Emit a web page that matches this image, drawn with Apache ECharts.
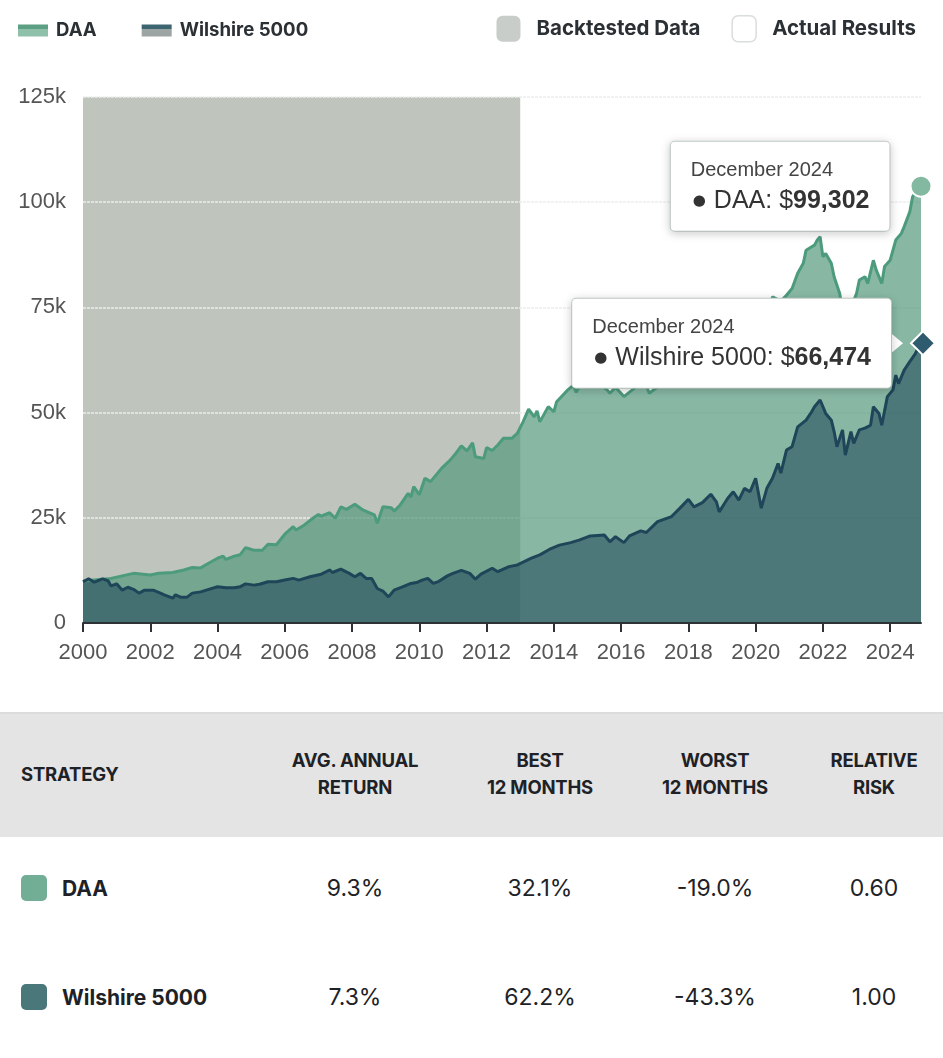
<!DOCTYPE html>
<html>
<head>
<meta charset="utf-8">
<script src="https://cdn.jsdelivr.net/npm/echarts/dist/echarts.min.js"></script>
<style>
  body { margin: 0; background: #fff; font-family: Inter, Roboto, sans-serif; color: #222; }
  #chart { width: 943px; height: 712px; }
  #stats { position: relative; width: 943px; height: 346px; }
  .band { position: absolute; left: 0; top: 0; width: 943px; height: 125px; background: #e4e4e4; border-top: 2px solid #dcdcdc; box-sizing: border-box; }
  .cell { position: absolute; width: 220px; text-align: center; transform: translateY(-50%); white-space: nowrap; }
  .head { font-weight: 700; font-size: 18.5px; line-height: 27px; color: #1e2226; letter-spacing: -0.2px; }
  .name { font-weight: 700; font-size: 21px; color: #1e2226; text-align: left; }
  .val { font-size: 23px; color: #1e2226; }
  .sw { position: absolute; width: 26px; height: 26px; border-radius: 5px; transform: translateY(-50%); }
</style>
</head>
<body>
<div id="chart"></div>
<div id="stats"></div>
<script>
// 月份 (x 轴类目)
var months = [];
for (var y = 2000; y <= 2024; y++) {
    for (var mo = 1; mo <= 12; mo++) {
        months.push(y + '-' + (mo < 10 ? '0' + mo : mo));
    }
}

// DAA 读数
var daaDates = ['2000-01','2000-11','2001-07','2002-01','2002-04','2002-09','2003-01','2003-04','2003-07','2003-09',
    '2004-01','2004-03','2004-04','2004-07','2004-09','2004-11','2005-02','2005-05','2005-07','2005-10',
    '2006-01','2006-04','2006-05','2006-08','2006-11','2007-01','2007-02','2007-05','2007-07','2007-09',
    '2007-11','2008-02','2008-05','2008-09','2008-10','2008-12','2009-03','2009-04','2009-06','2009-09',
    '2009-10','2009-11','2010-01','2010-03','2010-05','2010-09','2010-12','2011-02','2011-04','2011-06',
    '2011-08','2011-09','2011-12','2012-01','2012-03','2012-05','2012-07','2012-10','2012-12','2013-02',
    '2013-04','2013-06','2013-07','2013-08','2013-11','2014-01','2014-02','2014-06','2014-08','2014-09',
    '2014-11','2015-02','2015-05','2015-08','2015-09','2015-11','2016-02','2016-05','2016-08','2016-10',
    '2016-11','2017-02','2017-05','2017-09','2018-01','2018-03','2018-06','2018-09','2018-12','2019-03',
    '2019-07','2019-11','2020-01','2020-03','2020-05','2020-07','2020-10','2020-12','2021-02','2021-04',
    '2021-06','2021-07','2021-09','2021-10','2021-11','2021-12','2022-01','2022-02','2022-04','2022-05',
    '2022-07','2022-08','2022-09','2022-10','2022-11','2023-01','2023-02','2023-04','2023-05','2023-07',
    '2023-08','2023-10','2023-11','2024-01','2024-03','2024-05','2024-06','2024-08','2024-09','2024-11',
    '2024-12'];
var daaValues = [10000,10600,11800,11400,11800,12000,12600,13200,13100,13900,
    15400,15900,15100,15900,16200,17900,17300,17300,18700,18600,
    21100,22900,22100,23300,24900,25800,25400,26200,24900,27600,
    27000,28200,26800,25700,23700,27600,27400,26600,27900,30800,
    29900,32400,30500,34400,33600,36800,38700,40300,42100,40900,
    42800,39500,39100,41700,41000,42300,43900,43900,45100,47800,
    50800,49000,50400,47800,51400,50200,52600,55400,56500,54800,
    57500,58500,57000,55400,54600,56000,53800,55400,57000,56500,
    54600,56100,60500,63500,67000,64000,66000,68000,62500,67000,
    70000,72500,74000,66500,71000,77500,76500,77900,79500,83100,
    85500,88600,89400,89800,91000,91800,87000,87800,85500,82300,
    78300,74000,71500,72500,75000,78300,81500,82300,80700,86200,
    83900,80700,84700,86200,91000,92600,94200,97700,101300,103300,
    103800];

// Wilshire 5000 读数
var wilDates = ['2000-01','2000-03','2000-05','2000-08','2000-10','2000-11','2001-01','2001-03','2001-05','2001-07',
    '2001-09','2001-11','2002-02','2002-04','2002-06','2002-09','2002-10','2002-12','2003-02','2003-04',
    '2003-07','2003-09','2004-01','2004-04','2004-07','2004-09','2004-11','2005-02','2005-04','2005-07',
    '2005-10','2006-01','2006-04','2006-06','2006-10','2007-02','2007-05','2007-06','2007-09','2007-12',
    '2008-02','2008-04','2008-06','2008-08','2008-10','2008-12','2009-02','2009-04','2009-07','2009-10',
    '2009-12','2010-02','2010-04','2010-06','2010-08','2010-11','2011-01','2011-04','2011-07','2011-09',
    '2011-11','2012-03','2012-05','2012-09','2012-12','2013-05','2013-08','2013-12','2014-03','2014-07',
    '2014-10','2015-02','2015-07','2015-09','2015-11','2016-02','2016-04','2016-08','2016-10','2017-02',
    '2017-07','2017-10','2018-01','2018-03','2018-06','2018-09','2018-11','2018-12','2019-03','2019-05',
    '2019-07','2019-09','2019-11','2020-01','2020-03','2020-05','2020-07','2020-09','2020-10','2020-12',
    '2021-02','2021-04','2021-07','2021-09','2021-10','2021-12','2022-02','2022-04','2022-05','2022-06',
    '2022-08','2022-09','2022-11','2022-12','2023-02','2023-04','2023-06','2023-07','2023-09','2023-10',
    '2023-12','2024-02','2024-03','2024-04','2024-06','2024-08','2024-10','2024-11','2024-12'];
var wilValues = [9800,10500,9700,10500,10000,8800,9300,7800,8500,8000,
    7100,7800,7800,7300,6700,5900,6700,6100,6100,7100,
    7400,7800,8600,8400,8400,8600,9300,9000,9200,9800,
    9800,10200,10600,10200,11000,11600,12600,12000,12800,11800,
    11000,11800,10600,10600,8200,7600,6200,7800,8600,9400,
    9600,10200,10600,9400,9900,11200,11800,12500,11800,10400,
    11600,13000,12200,13400,13800,15400,16200,17700,18500,19100,
    19700,20700,20900,19300,20500,19100,20700,21900,21500,24100,
    25300,27300,29400,27600,28600,30600,28800,26400,29600,31200,
    29200,32000,31200,34400,27300,32000,34400,37900,35600,41100,
    41900,46600,48200,50200,51400,53000,49800,48200,45500,41900,
    45900,39900,45500,42700,45900,46300,47000,51400,49800,47000,
    53800,55400,58900,56900,60100,62100,64000,65500,66500];

var backtestRange = ['2000-01', '2013-01'];
var tipMonth = 'December 2024';
var daaTip = '99,302';
var wilTip = '66,474';
var yTicks = [0, 25000, 50000, 75000, 100000, 125000];

// 表格
var headLines = [['STRATEGY'], ['AVG. ANNUAL', 'RETURN'], ['BEST', '12 MONTHS'], ['WORST', '12 MONTHS'], ['RELATIVE', 'RISK']];
var strategies = ['DAA', 'Wilshire 5000'];
var avgReturn = ['9.3%', '7.3%'];
var best12 = ['32.1%', '62.2%'];
var worst12 = ['-19.0%', '-43.3%'];
var relRisk = ['0.60', '1.00'];
var swatches = ['#72ae95', '#4a777a'];

function pairs(dates, values) {
    return dates.map(function (d, i) { return [d, values[i]]; });
}

function twoTone(top, bottom) {
    return {
        type: 'linear', x: 0, y: 0, x2: 0, y2: 1,
        colorStops: [
            {offset: 0, color: top}, {offset: 0.36, color: top},
            {offset: 0.36, color: bottom}, {offset: 1, color: bottom}
        ]
    };
}

function tipLabel(name, value, dist) {
    return {
        show: true,
        position: 'left',
        distance: dist,
        backgroundColor: '#fff',
        borderColor: '#c8d3cd',
        borderWidth: 1,
        borderRadius: 4,
        padding: [15, 20, 13, 20],
        shadowBlur: 8,
        shadowColor: 'rgba(0,0,0,0.18)',
        shadowOffsetY: 2,
        formatter: '{d|' + tipMonth + '}\n{dot|●}{n|' + name + ': $}{v|' + value + '}',
        rich: {
            d: {fontFamily: 'Liberation Sans', fontSize: 20, color: '#444', lineHeight: 28, align: 'left'},
            dot: {fontFamily: 'DejaVu Sans', fontSize: 15, color: '#333', lineHeight: 33, align: 'left', padding: [0, 8, 0, 2]},
            n: {fontFamily: 'Liberation Sans', fontSize: 25, color: '#333', lineHeight: 33, align: 'left'},
            v: {fontFamily: 'Liberation Sans', fontSize: 25, fontWeight: 'bold', color: '#333', lineHeight: 33, align: 'left'}
        }
    };
}

var lastMonth = months[months.length - 1];

var option = {
    animation: false,
    legend: [{
        left: 18,
        top: 21,
        padding: 0,
        icon: 'rect',
        itemWidth: 30,
        itemHeight: 12,
        itemGap: 45,
        selectedMode: false,
        textStyle: {fontFamily: 'Inter', fontWeight: 'bold', fontSize: 18.6, color: '#2b3035', padding: [0, 0, 0, 3]},
        data: [
            {name: 'DAA', itemStyle: {color: twoTone('#5d9f83', '#8fc0aa')}},
            {name: 'Wilshire 5000', itemStyle: {color: twoTone('#3d6571', '#9ca4a4')}}
        ]
    }, {
        right: 27,
        top: 15,
        padding: 0,
        icon: 'roundRect',
        itemWidth: 24,
        itemHeight: 26,
        itemGap: 31,
        selectedMode: false,
        textStyle: {fontFamily: 'Inter', fontWeight: 'bold', fontSize: 20.5, color: '#2b3035', padding: [0, 0, 0, 11]},
        data: [
            {name: 'Backtested Data', itemStyle: {color: '#c8cdc9', borderWidth: 0}},
            {name: 'Actual Results', itemStyle: {color: '#fff', borderColor: '#d9dddb', borderWidth: 1.5}}
        ]
    }],
    grid: {left: 83, right: 22, top: 97, bottom: 89},
    xAxis: {
        type: 'category',
        data: months,
        boundaryGap: false,
        z: 4,
        axisLine: {lineStyle: {color: '#2e3236', width: 2}},
        axisTick: {interval: 23, length: 9, lineStyle: {color: '#2e3236', width: 2}},
        axisLabel: {
            interval: 23,
            margin: 19,
            fontFamily: 'Liberation Sans',
            fontSize: 22,
            color: '#555',
            formatter: function (v) { return v.slice(0, 4); }
        },
        splitLine: {show: false}
    },
    yAxis: {
        type: 'value',
        min: yTicks[0],
        max: yTicks[yTicks.length - 1],
        interval: yTicks[1] - yTicks[0],
        z: 3,
        axisLine: {show: false},
        axisTick: {show: false},
        axisLabel: {
            margin: 17,
            fontFamily: 'Liberation Sans',
            fontSize: 22,
            color: '#555',
            formatter: function (v) { return v === 0 ? '0' : v / 1000 + 'k'; }
        },
        splitLine: {lineStyle: {color: '#ededed', width: 1.5, type: [3, 1]}}
    },
    series: [
        {
            name: 'DAA',
            type: 'line',
            data: pairs(daaDates, daaValues),
            showSymbol: false,
            lineStyle: {color: '#4c9b7d', width: 3},
            itemStyle: {color: '#4c9b7d'},
            areaStyle: {color: '#52987b', opacity: 0.69},
            markArea: {
                silent: true,
                itemStyle: {color: '#bfc5bd'},
                data: [[{xAxis: backtestRange[0]}, {xAxis: backtestRange[1]}]]
            },
            markPoint: {
                silent: true,
                data: [
                    {coord: [lastMonth, daaValues[daaValues.length - 1]], symbol: 'triangle', symbolSize: [20, 12],
                        symbolRotate: -90, symbolOffset: [-25, 0], itemStyle: {color: '#fff'}, label: {show: false}},
                    {coord: [lastMonth, daaValues[daaValues.length - 1]], symbol: 'circle', symbolSize: 21,
                        itemStyle: {color: '#82b9a0', borderColor: '#fff', borderWidth: 2},
                        label: tipLabel('DAA', daaTip, 20)}
                ]
            }
        },
        {
            name: 'Wilshire 5000',
            type: 'line',
            data: pairs(wilDates, wilValues),
            showSymbol: false,
            lineStyle: {color: '#1f4559', width: 3},
            itemStyle: {color: '#1f4559'},
            areaStyle: {color: '#143a52', opacity: 0.5},
            markPoint: {
                silent: true,
                data: [
                    {coord: [lastMonth, wilValues[wilValues.length - 1]], symbol: 'triangle', symbolSize: [20, 12],
                        symbolRotate: -90, symbolOffset: [-24, 0], itemStyle: {color: '#fff'}, label: {show: false}},
                    {coord: [lastMonth, wilValues[wilValues.length - 1]], symbol: 'diamond', symbolSize: 24,
                        symbolOffset: [2, 0],
                        itemStyle: {color: '#2f5b6e', borderColor: '#fff', borderWidth: 2},
                        label: tipLabel('Wilshire 5000', wilTip, 19)}
                ]
            }
        },
        {name: 'Backtested Data', type: 'line', data: [], itemStyle: {color: '#c8cdc9'}},
        {name: 'Actual Results', type: 'line', data: [], itemStyle: {color: '#fff'}}
    ]
};

var chart = echarts.init(document.getElementById('chart'));
chart.setOption(option);

// 统计表
var cols = [355, 540, 715, 874];
var rowsY = [176, 285];
var stats = document.getElementById('stats');
var html = '<div class="band"></div>';
headLines.forEach(function (lines, i) {
    if (i === 0) {
        html += '<div class="cell head" style="left:21px;top:62px;text-align:left">' + lines.join('<br>') + '</div>';
    } else {
        html += '<div class="cell head" style="left:' + (cols[i - 1] - 110) + 'px;top:62px">' + lines.join('<br>') + '</div>';
    }
});
strategies.forEach(function (s, r) {
    var top = rowsY[r];
    html += '<div class="sw" style="left:21px;top:' + top + 'px;background:' + swatches[r] + '"></div>';
    html += '<div class="cell name" style="left:62px;top:' + top + 'px">' + s + '</div>';
    [avgReturn[r], best12[r], worst12[r], relRisk[r]].forEach(function (v, c) {
        html += '<div class="cell val" style="left:' + (cols[c] - 110) + 'px;top:' + top + 'px">' + v + '</div>';
    });
});
stats.innerHTML = html;
</script>
</body>
</html>
